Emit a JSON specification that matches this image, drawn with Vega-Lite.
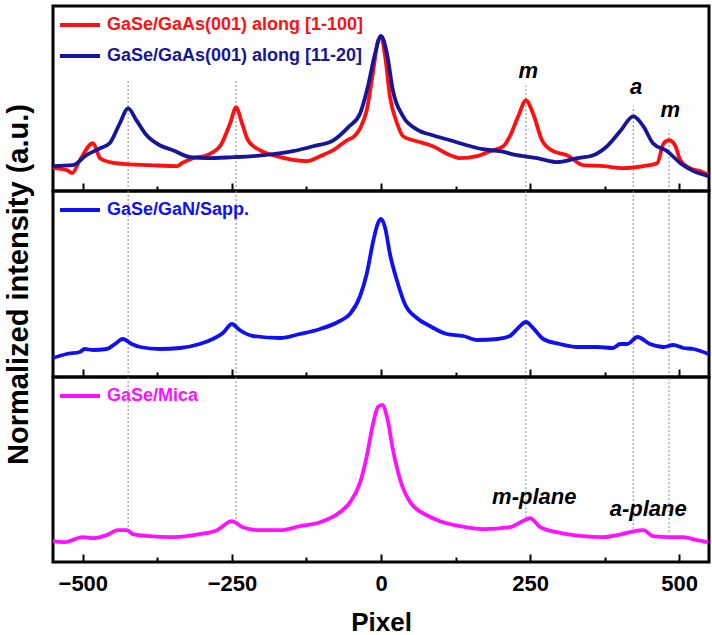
{
  "$schema": "https://vega.github.io/schema/vega-lite/v6.json",
  "background": "white",
  "padding": {"left": 2, "top": 1, "right": 1, "bottom": 0},
  "spacing": 0,
  "bounds": "flush",
  "resolve": {"scale": {"color": "independent"}},
  "config": {
    "view": {"stroke": "black", "strokeWidth": 3},
    "font": "Liberation Sans",
    "axis": {"labelFont": "Liberation Sans", "titleFont": "Liberation Sans", "grid": false, "labelColor": "black", "titleColor": "black"},
    "legend": {
      "symbolType": "stroke", "symbolSize": 1600, "symbolStrokeWidth": 4,
      "labelFont": "Liberation Sans", "labelFontSize": 18, "labelFontWeight": "bold",
      "labelOffset": 5, "padding": 0, "rowPadding": -7, "labelLimit": 400
    }
  },
  "datasets": {
    "top": [
      {"series": "GaSe/GaAs(001) along [1-100]", "pixel": -550, "intensity": 23},
      {"series": "GaSe/GaAs(001) along [1-100]", "pixel": -527, "intensity": 21},
      {"series": "GaSe/GaAs(001) along [1-100]", "pixel": -518, "intensity": 18},
      {"series": "GaSe/GaAs(001) along [1-100]", "pixel": -505, "intensity": 31},
      {"series": "GaSe/GaAs(001) along [1-100]", "pixel": -483, "intensity": 48},
      {"series": "GaSe/GaAs(001) along [1-100]", "pixel": -471, "intensity": 33},
      {"series": "GaSe/GaAs(001) along [1-100]", "pixel": -455, "intensity": 29},
      {"series": "GaSe/GaAs(001) along [1-100]", "pixel": -426, "intensity": 27},
      {"series": "GaSe/GaAs(001) along [1-100]", "pixel": -388, "intensity": 26},
      {"series": "GaSe/GaAs(001) along [1-100]", "pixel": -342, "intensity": 25},
      {"series": "GaSe/GaAs(001) along [1-100]", "pixel": -334, "intensity": 28},
      {"series": "GaSe/GaAs(001) along [1-100]", "pixel": -315, "intensity": 33},
      {"series": "GaSe/GaAs(001) along [1-100]", "pixel": -292, "intensity": 36},
      {"series": "GaSe/GaAs(001) along [1-100]", "pixel": -270, "intensity": 45},
      {"series": "GaSe/GaAs(001) along [1-100]", "pixel": -253, "intensity": 68},
      {"series": "GaSe/GaAs(001) along [1-100]", "pixel": -243, "intensity": 84},
      {"series": "GaSe/GaAs(001) along [1-100]", "pixel": -233, "intensity": 68},
      {"series": "GaSe/GaAs(001) along [1-100]", "pixel": -223, "intensity": 51},
      {"series": "GaSe/GaAs(001) along [1-100]", "pixel": -203, "intensity": 41},
      {"series": "GaSe/GaAs(001) along [1-100]", "pixel": -175, "intensity": 35},
      {"series": "GaSe/GaAs(001) along [1-100]", "pixel": -124, "intensity": 30},
      {"series": "GaSe/GaAs(001) along [1-100]", "pixel": -102, "intensity": 35},
      {"series": "GaSe/GaAs(001) along [1-100]", "pixel": -80, "intensity": 41},
      {"series": "GaSe/GaAs(001) along [1-100]", "pixel": -57, "intensity": 51},
      {"series": "GaSe/GaAs(001) along [1-100]", "pixel": -45, "intensity": 55},
      {"series": "GaSe/GaAs(001) along [1-100]", "pixel": -35, "intensity": 63},
      {"series": "GaSe/GaAs(001) along [1-100]", "pixel": -24, "intensity": 81},
      {"series": "GaSe/GaAs(001) along [1-100]", "pixel": -13, "intensity": 121},
      {"series": "GaSe/GaAs(001) along [1-100]", "pixel": -5, "intensity": 151},
      {"series": "GaSe/GaAs(001) along [1-100]", "pixel": 0, "intensity": 155},
      {"series": "GaSe/GaAs(001) along [1-100]", "pixel": 7, "intensity": 135},
      {"series": "GaSe/GaAs(001) along [1-100]", "pixel": 15, "intensity": 95},
      {"series": "GaSe/GaAs(001) along [1-100]", "pixel": 27, "intensity": 68},
      {"series": "GaSe/GaAs(001) along [1-100]", "pixel": 37, "intensity": 55},
      {"series": "GaSe/GaAs(001) along [1-100]", "pixel": 60, "intensity": 50},
      {"series": "GaSe/GaAs(001) along [1-100]", "pixel": 87, "intensity": 45},
      {"series": "GaSe/GaAs(001) along [1-100]", "pixel": 116, "intensity": 36},
      {"series": "GaSe/GaAs(001) along [1-100]", "pixel": 133, "intensity": 33},
      {"series": "GaSe/GaAs(001) along [1-100]", "pixel": 161, "intensity": 35},
      {"series": "GaSe/GaAs(001) along [1-100]", "pixel": 183, "intensity": 40},
      {"series": "GaSe/GaAs(001) along [1-100]", "pixel": 205, "intensity": 45},
      {"series": "GaSe/GaAs(001) along [1-100]", "pixel": 216, "intensity": 55},
      {"series": "GaSe/GaAs(001) along [1-100]", "pixel": 230, "intensity": 75},
      {"series": "GaSe/GaAs(001) along [1-100]", "pixel": 243, "intensity": 91},
      {"series": "GaSe/GaAs(001) along [1-100]", "pixel": 255, "intensity": 78},
      {"series": "GaSe/GaAs(001) along [1-100]", "pixel": 270, "intensity": 51},
      {"series": "GaSe/GaAs(001) along [1-100]", "pixel": 289, "intensity": 40},
      {"series": "GaSe/GaAs(001) along [1-100]", "pixel": 312, "intensity": 36},
      {"series": "GaSe/GaAs(001) along [1-100]", "pixel": 339, "intensity": 26},
      {"series": "GaSe/GaAs(001) along [1-100]", "pixel": 373, "intensity": 25},
      {"series": "GaSe/GaAs(001) along [1-100]", "pixel": 406, "intensity": 23},
      {"series": "GaSe/GaAs(001) along [1-100]", "pixel": 440, "intensity": 25},
      {"series": "GaSe/GaAs(001) along [1-100]", "pixel": 463, "intensity": 28},
      {"series": "GaSe/GaAs(001) along [1-100]", "pixel": 474, "intensity": 48},
      {"series": "GaSe/GaAs(001) along [1-100]", "pixel": 483, "intensity": 51},
      {"series": "GaSe/GaAs(001) along [1-100]", "pixel": 493, "intensity": 46},
      {"series": "GaSe/GaAs(001) along [1-100]", "pixel": 502, "intensity": 31},
      {"series": "GaSe/GaAs(001) along [1-100]", "pixel": 518, "intensity": 23},
      {"series": "GaSe/GaAs(001) along [1-100]", "pixel": 535, "intensity": 20},
      {"series": "GaSe/GaAs(001) along [1-100]", "pixel": 549, "intensity": 16},
      {"series": "GaSe/GaAs(001) along [11-20]", "pixel": -550, "intensity": 25},
      {"series": "GaSe/GaAs(001) along [11-20]", "pixel": -517, "intensity": 26},
      {"series": "GaSe/GaAs(001) along [11-20]", "pixel": -494, "intensity": 36},
      {"series": "GaSe/GaAs(001) along [11-20]", "pixel": -471, "intensity": 43},
      {"series": "GaSe/GaAs(001) along [11-20]", "pixel": -455, "intensity": 48},
      {"series": "GaSe/GaAs(001) along [11-20]", "pixel": -438, "intensity": 68},
      {"series": "GaSe/GaAs(001) along [11-20]", "pixel": -424, "intensity": 83},
      {"series": "GaSe/GaAs(001) along [11-20]", "pixel": -410, "intensity": 71},
      {"series": "GaSe/GaAs(001) along [11-20]", "pixel": -393, "intensity": 56},
      {"series": "GaSe/GaAs(001) along [11-20]", "pixel": -371, "intensity": 46},
      {"series": "GaSe/GaAs(001) along [11-20]", "pixel": -349, "intensity": 41},
      {"series": "GaSe/GaAs(001) along [11-20]", "pixel": -320, "intensity": 34},
      {"series": "GaSe/GaAs(001) along [11-20]", "pixel": -292, "intensity": 33},
      {"series": "GaSe/GaAs(001) along [11-20]", "pixel": -248, "intensity": 34},
      {"series": "GaSe/GaAs(001) along [11-20]", "pixel": -215, "intensity": 35},
      {"series": "GaSe/GaAs(001) along [11-20]", "pixel": -181, "intensity": 37},
      {"series": "GaSe/GaAs(001) along [11-20]", "pixel": -148, "intensity": 40},
      {"series": "GaSe/GaAs(001) along [11-20]", "pixel": -114, "intensity": 45},
      {"series": "GaSe/GaAs(001) along [11-20]", "pixel": -80, "intensity": 51},
      {"series": "GaSe/GaAs(001) along [11-20]", "pixel": -55, "intensity": 64},
      {"series": "GaSe/GaAs(001) along [11-20]", "pixel": -35, "intensity": 78},
      {"series": "GaSe/GaAs(001) along [11-20]", "pixel": -22, "intensity": 105},
      {"series": "GaSe/GaAs(001) along [11-20]", "pixel": -10, "intensity": 138},
      {"series": "GaSe/GaAs(001) along [11-20]", "pixel": 0, "intensity": 156},
      {"series": "GaSe/GaAs(001) along [11-20]", "pixel": 10, "intensity": 138},
      {"series": "GaSe/GaAs(001) along [11-20]", "pixel": 20, "intensity": 101},
      {"series": "GaSe/GaAs(001) along [11-20]", "pixel": 37, "intensity": 75},
      {"series": "GaSe/GaAs(001) along [11-20]", "pixel": 60, "intensity": 62},
      {"series": "GaSe/GaAs(001) along [11-20]", "pixel": 87, "intensity": 56},
      {"series": "GaSe/GaAs(001) along [11-20]", "pixel": 116, "intensity": 51},
      {"series": "GaSe/GaAs(001) along [11-20]", "pixel": 144, "intensity": 46},
      {"series": "GaSe/GaAs(001) along [11-20]", "pixel": 171, "intensity": 42},
      {"series": "GaSe/GaAs(001) along [11-20]", "pixel": 200, "intensity": 40},
      {"series": "GaSe/GaAs(001) along [11-20]", "pixel": 228, "intensity": 36},
      {"series": "GaSe/GaAs(001) along [11-20]", "pixel": 262, "intensity": 33},
      {"series": "GaSe/GaAs(001) along [11-20]", "pixel": 295, "intensity": 29},
      {"series": "GaSe/GaAs(001) along [11-20]", "pixel": 329, "intensity": 33},
      {"series": "GaSe/GaAs(001) along [11-20]", "pixel": 356, "intensity": 36},
      {"series": "GaSe/GaAs(001) along [11-20]", "pixel": 379, "intensity": 45},
      {"series": "GaSe/GaAs(001) along [11-20]", "pixel": 401, "intensity": 60},
      {"series": "GaSe/GaAs(001) along [11-20]", "pixel": 423, "intensity": 75},
      {"series": "GaSe/GaAs(001) along [11-20]", "pixel": 440, "intensity": 65},
      {"series": "GaSe/GaAs(001) along [11-20]", "pixel": 456, "intensity": 48},
      {"series": "GaSe/GaAs(001) along [11-20]", "pixel": 480, "intensity": 40},
      {"series": "GaSe/GaAs(001) along [11-20]", "pixel": 502, "intensity": 28},
      {"series": "GaSe/GaAs(001) along [11-20]", "pixel": 524, "intensity": 20},
      {"series": "GaSe/GaAs(001) along [11-20]", "pixel": 549, "intensity": 15}
    ],
    "middle": [
      {"series": "GaSe/GaN/Sapp.", "pixel": -550, "intensity": 19},
      {"series": "GaSe/GaN/Sapp.", "pixel": -527, "intensity": 23},
      {"series": "GaSe/GaN/Sapp.", "pixel": -505, "intensity": 25},
      {"series": "GaSe/GaN/Sapp.", "pixel": -497, "intensity": 28},
      {"series": "GaSe/GaN/Sapp.", "pixel": -483, "intensity": 27},
      {"series": "GaSe/GaN/Sapp.", "pixel": -460, "intensity": 28},
      {"series": "GaSe/GaN/Sapp.", "pixel": -446, "intensity": 33},
      {"series": "GaSe/GaN/Sapp.", "pixel": -433, "intensity": 38},
      {"series": "GaSe/GaN/Sapp.", "pixel": -418, "intensity": 33},
      {"series": "GaSe/GaN/Sapp.", "pixel": -404, "intensity": 30},
      {"series": "GaSe/GaN/Sapp.", "pixel": -371, "intensity": 28},
      {"series": "GaSe/GaN/Sapp.", "pixel": -337, "intensity": 29},
      {"series": "GaSe/GaN/Sapp.", "pixel": -304, "intensity": 33},
      {"series": "GaSe/GaN/Sapp.", "pixel": -282, "intensity": 38},
      {"series": "GaSe/GaN/Sapp.", "pixel": -265, "intensity": 44},
      {"series": "GaSe/GaN/Sapp.", "pixel": -250, "intensity": 53},
      {"series": "GaSe/GaN/Sapp.", "pixel": -237, "intensity": 47},
      {"series": "GaSe/GaN/Sapp.", "pixel": -215, "intensity": 41},
      {"series": "GaSe/GaN/Sapp.", "pixel": -169, "intensity": 39},
      {"series": "GaSe/GaN/Sapp.", "pixel": -136, "intensity": 43},
      {"series": "GaSe/GaN/Sapp.", "pixel": -102, "intensity": 48},
      {"series": "GaSe/GaN/Sapp.", "pixel": -69, "intensity": 56},
      {"series": "GaSe/GaN/Sapp.", "pixel": -52, "intensity": 63},
      {"series": "GaSe/GaN/Sapp.", "pixel": -35, "intensity": 81},
      {"series": "GaSe/GaN/Sapp.", "pixel": -24, "intensity": 103},
      {"series": "GaSe/GaN/Sapp.", "pixel": -13, "intensity": 136},
      {"series": "GaSe/GaN/Sapp.", "pixel": -5, "intensity": 154},
      {"series": "GaSe/GaN/Sapp.", "pixel": 0, "intensity": 158},
      {"series": "GaSe/GaN/Sapp.", "pixel": 7, "intensity": 149},
      {"series": "GaSe/GaN/Sapp.", "pixel": 15, "intensity": 123},
      {"series": "GaSe/GaN/Sapp.", "pixel": 27, "intensity": 96},
      {"series": "GaSe/GaN/Sapp.", "pixel": 40, "intensity": 73},
      {"series": "GaSe/GaN/Sapp.", "pixel": 60, "intensity": 59},
      {"series": "GaSe/GaN/Sapp.", "pixel": 82, "intensity": 51},
      {"series": "GaSe/GaN/Sapp.", "pixel": 110, "intensity": 43},
      {"series": "GaSe/GaN/Sapp.", "pixel": 138, "intensity": 41},
      {"series": "GaSe/GaN/Sapp.", "pixel": 161, "intensity": 37},
      {"series": "GaSe/GaN/Sapp.", "pixel": 195, "intensity": 38},
      {"series": "GaSe/GaN/Sapp.", "pixel": 216, "intensity": 41},
      {"series": "GaSe/GaN/Sapp.", "pixel": 230, "intensity": 49},
      {"series": "GaSe/GaN/Sapp.", "pixel": 243, "intensity": 55},
      {"series": "GaSe/GaN/Sapp.", "pixel": 255, "intensity": 49},
      {"series": "GaSe/GaN/Sapp.", "pixel": 272, "intensity": 38},
      {"series": "GaSe/GaN/Sapp.", "pixel": 300, "intensity": 33},
      {"series": "GaSe/GaN/Sapp.", "pixel": 329, "intensity": 30},
      {"series": "GaSe/GaN/Sapp.", "pixel": 362, "intensity": 30},
      {"series": "GaSe/GaN/Sapp.", "pixel": 389, "intensity": 29},
      {"series": "GaSe/GaN/Sapp.", "pixel": 401, "intensity": 33},
      {"series": "GaSe/GaN/Sapp.", "pixel": 413, "intensity": 33},
      {"series": "GaSe/GaN/Sapp.", "pixel": 430, "intensity": 40},
      {"series": "GaSe/GaN/Sapp.", "pixel": 451, "intensity": 33},
      {"series": "GaSe/GaN/Sapp.", "pixel": 474, "intensity": 30},
      {"series": "GaSe/GaN/Sapp.", "pixel": 490, "intensity": 32},
      {"series": "GaSe/GaN/Sapp.", "pixel": 507, "intensity": 29},
      {"series": "GaSe/GaN/Sapp.", "pixel": 524, "intensity": 28},
      {"series": "GaSe/GaN/Sapp.", "pixel": 549, "intensity": 23}
    ],
    "bottom": [
      {"series": "GaSe/Mica", "pixel": -550, "intensity": 21},
      {"series": "GaSe/Mica", "pixel": -530, "intensity": 20},
      {"series": "GaSe/Mica", "pixel": -500, "intensity": 25},
      {"series": "GaSe/Mica", "pixel": -483, "intensity": 24},
      {"series": "GaSe/Mica", "pixel": -460, "intensity": 27},
      {"series": "GaSe/Mica", "pixel": -441, "intensity": 32},
      {"series": "GaSe/Mica", "pixel": -426, "intensity": 32},
      {"series": "GaSe/Mica", "pixel": -416, "intensity": 28},
      {"series": "GaSe/Mica", "pixel": -388, "intensity": 26},
      {"series": "GaSe/Mica", "pixel": -349, "intensity": 25},
      {"series": "GaSe/Mica", "pixel": -304, "intensity": 28},
      {"series": "GaSe/Mica", "pixel": -275, "intensity": 32},
      {"series": "GaSe/Mica", "pixel": -250, "intensity": 41},
      {"series": "GaSe/Mica", "pixel": -232, "intensity": 35},
      {"series": "GaSe/Mica", "pixel": -203, "intensity": 32},
      {"series": "GaSe/Mica", "pixel": -169, "intensity": 32},
      {"series": "GaSe/Mica", "pixel": -136, "intensity": 36},
      {"series": "GaSe/Mica", "pixel": -102, "intensity": 40},
      {"series": "GaSe/Mica", "pixel": -69, "intensity": 50},
      {"series": "GaSe/Mica", "pixel": -52, "intensity": 60},
      {"series": "GaSe/Mica", "pixel": -35, "intensity": 80},
      {"series": "GaSe/Mica", "pixel": -24, "intensity": 106},
      {"series": "GaSe/Mica", "pixel": -13, "intensity": 140},
      {"series": "GaSe/Mica", "pixel": -5, "intensity": 156},
      {"series": "GaSe/Mica", "pixel": 2, "intensity": 158},
      {"series": "GaSe/Mica", "pixel": 10, "intensity": 146},
      {"series": "GaSe/Mica", "pixel": 20, "intensity": 113},
      {"series": "GaSe/Mica", "pixel": 32, "intensity": 83},
      {"series": "GaSe/Mica", "pixel": 49, "intensity": 60},
      {"series": "GaSe/Mica", "pixel": 77, "intensity": 47},
      {"series": "GaSe/Mica", "pixel": 99, "intensity": 41},
      {"series": "GaSe/Mica", "pixel": 133, "intensity": 36},
      {"series": "GaSe/Mica", "pixel": 171, "intensity": 33},
      {"series": "GaSe/Mica", "pixel": 216, "intensity": 35},
      {"series": "GaSe/Mica", "pixel": 237, "intensity": 41},
      {"series": "GaSe/Mica", "pixel": 250, "intensity": 44},
      {"series": "GaSe/Mica", "pixel": 267, "intensity": 35},
      {"series": "GaSe/Mica", "pixel": 295, "intensity": 30},
      {"series": "GaSe/Mica", "pixel": 339, "intensity": 26},
      {"series": "GaSe/Mica", "pixel": 373, "intensity": 25},
      {"series": "GaSe/Mica", "pixel": 396, "intensity": 27},
      {"series": "GaSe/Mica", "pixel": 418, "intensity": 30},
      {"series": "GaSe/Mica", "pixel": 440, "intensity": 32},
      {"series": "GaSe/Mica", "pixel": 456, "intensity": 26},
      {"series": "GaSe/Mica", "pixel": 485, "intensity": 25},
      {"series": "GaSe/Mica", "pixel": 507, "intensity": 25},
      {"series": "GaSe/Mica", "pixel": 530, "intensity": 22},
      {"series": "GaSe/Mica", "pixel": 549, "intensity": 20}
    ],
    "guides": [
      {"panel": "top", "pixel": -424, "low": 0, "high": 111},
      {"panel": "top", "pixel": -243, "low": 0, "high": 111},
      {"panel": "top", "pixel": 243, "low": 0, "high": 106},
      {"panel": "top", "pixel": 423, "low": 0, "high": 85},
      {"panel": "top", "pixel": 483, "low": 0, "high": 61},
      {"panel": "middle", "pixel": -424, "low": 0, "high": 186},
      {"panel": "middle", "pixel": -243, "low": 0, "high": 186},
      {"panel": "middle", "pixel": 243, "low": 0, "high": 186},
      {"panel": "middle", "pixel": 423, "low": 0, "high": 186},
      {"panel": "middle", "pixel": 483, "low": 0, "high": 186},
      {"panel": "bottom", "pixel": -424, "low": 31, "high": 186},
      {"panel": "bottom", "pixel": -243, "low": 43, "high": 186},
      {"panel": "bottom", "pixel": 243, "low": 45, "high": 186},
      {"panel": "bottom", "pixel": 423, "low": 33, "high": 186},
      {"panel": "bottom", "pixel": 483, "low": 30, "high": 186}
    ],
    "labels": [
      {"panel": "top", "pixel": 247, "intensity": 121, "text": "m"},
      {"panel": "top", "pixel": 428, "intensity": 105, "text": "a"},
      {"panel": "top", "pixel": 485, "intensity": 81, "text": "m"},
      {"panel": "bottom", "pixel": 257, "intensity": 65, "text": "m-plane"},
      {"panel": "bottom", "pixel": 448, "intensity": 53, "text": "a-plane"}
    ]
  },
  "vconcat": [
    {
      "width": 656, "height": 185,
      "layer": [
        {
          "data": {"name": "guides"},
          "transform": [{"filter": "datum.panel === 'top'"}],
          "mark": {"type": "rule", "strokeDash": [2, 2], "color": "#888888", "strokeWidth": 1},
          "encoding": {
            "x": {"field": "pixel", "type": "quantitative", "scale": {"domain": [-550, 550], "nice": false, "zero": false},
              "axis": {"values": [-500, -375, -250, -125, 0, 125, 250, 375, 500], "labels": false, "title": null, "domain": false, "tickColor": "black", "tickWidth": 2,
                "tickSize": {"condition": {"test": "datum.value % 250 === 0", "value": -8}, "value": -5}}},
            "y": {"field": "low", "type": "quantitative", "scale": {"domain": [0, 186], "nice": false, "zero": false}, "axis": null},
            "y2": {"field": "high"}
          }
        },
        {
          "data": {"name": "top"},
          "mark": {"type": "line", "strokeWidth": 3.8, "strokeJoin": "round", "interpolate": "monotone"},
          "encoding": {
            "x": {"field": "pixel", "type": "quantitative"},
            "y": {"field": "intensity", "type": "quantitative"},
            "color": {"field": "series", "type": "nominal",
              "scale": {"domain": ["GaSe/GaAs(001) along [1-100]", "GaSe/GaAs(001) along [11-20]"], "range": ["#ff1010", "#16169a"]},
              "legend": {"title": null, "orient": "none", "legendX": 5, "legendY": -3,
                "encode": {"labels": {"update": {"fill": {"signal": "datum.value === 'GaSe/GaAs(001) along [1-100]' ? '#ff1010' : '#16169a'"}}}}}}
          }
        },
        {
          "data": {"name": "labels"},
          "transform": [{"filter": "datum.panel === 'top'"}],
          "mark": {"type": "text", "font": "Liberation Sans", "fontSize": 22, "fontWeight": "bold", "fontStyle": "italic", "color": "black", "baseline": "middle"},
          "encoding": {
            "x": {"field": "pixel", "type": "quantitative"},
            "y": {"field": "intensity", "type": "quantitative"},
            "text": {"field": "text"}
          }
        }
      ]
    },
    {
      "width": 656, "height": 186,
      "layer": [
        {
          "data": {"name": "guides"},
          "transform": [{"filter": "datum.panel === 'middle'"}],
          "mark": {"type": "rule", "strokeDash": [2, 2], "color": "#888888", "strokeWidth": 1},
          "encoding": {
            "x": {"field": "pixel", "type": "quantitative", "scale": {"domain": [-550, 550], "nice": false, "zero": false},
              "axis": {"values": [-500, -375, -250, -125, 0, 125, 250, 375, 500], "labels": false, "title": null, "domain": false, "tickColor": "black", "tickWidth": 2,
                "tickSize": {"condition": {"test": "datum.value % 250 === 0", "value": -8}, "value": -5}}},
            "y": {"field": "low", "type": "quantitative", "scale": {"domain": [0, 186], "nice": false, "zero": false},
              "axis": {"title": "Normalized intensity (a.u.)", "labels": false, "ticks": false, "domain": false, "titleFontSize": 29, "titleFontWeight": "bold", "titlePadding": 20}},
            "y2": {"field": "high"}
          }
        },
        {
          "data": {"name": "middle"},
          "mark": {"type": "line", "strokeWidth": 3.8, "strokeJoin": "round", "interpolate": "monotone"},
          "encoding": {
            "x": {"field": "pixel", "type": "quantitative"},
            "y": {"field": "intensity", "type": "quantitative"},
            "color": {"field": "series", "type": "nominal",
              "scale": {"domain": ["GaSe/GaN/Sapp."], "range": ["#1010f5"]},
              "legend": {"title": null, "orient": "none", "legendX": 5, "legendY": -3,
                "encode": {"labels": {"update": {"fill": {"value": "#1010f5"}}}}}}
          }
        }
      ]
    },
    {
      "width": 656, "height": 185,
      "layer": [
        {
          "data": {"name": "guides"},
          "transform": [{"filter": "datum.panel === 'bottom'"}],
          "mark": {"type": "rule", "strokeDash": [2, 2], "color": "#888888", "strokeWidth": 1},
          "encoding": {
            "x": {"field": "pixel", "type": "quantitative", "scale": {"domain": [-550, 550], "nice": false, "zero": false},
              "axis": {"values": [-500, -375, -250, -125, 0, 125, 250, 375, 500], "title": "Pixel", "domain": false, "tickColor": "black", "tickWidth": 2,
                "tickSize": {"condition": {"test": "datum.value % 250 === 0", "value": -8}, "value": -5},
                "labelExpr": "datum.value % 250 === 0 ? datum.label : ''",
                "labelFontSize": 22, "labelFontWeight": "bold", "labelPadding": 19,
                "titleFontSize": 26, "titleFontWeight": "bold", "titlePadding": 15}},
            "y": {"field": "low", "type": "quantitative", "scale": {"domain": [0, 186], "nice": false, "zero": false}, "axis": null},
            "y2": {"field": "high"}
          }
        },
        {
          "data": {"name": "bottom"},
          "mark": {"type": "line", "strokeWidth": 3.8, "strokeJoin": "round", "interpolate": "monotone"},
          "encoding": {
            "x": {"field": "pixel", "type": "quantitative"},
            "y": {"field": "intensity", "type": "quantitative"},
            "color": {"field": "series", "type": "nominal",
              "scale": {"domain": ["GaSe/Mica"], "range": ["#ff10ff"]},
              "legend": {"title": null, "orient": "none", "legendX": 5, "legendY": -3,
                "encode": {"labels": {"update": {"fill": {"value": "#ff10ff"}}}}}}
          }
        },
        {
          "data": {"name": "labels"},
          "transform": [{"filter": "datum.panel === 'bottom'"}],
          "mark": {"type": "text", "font": "Liberation Sans", "fontSize": 22, "fontWeight": "bold", "fontStyle": "italic", "color": "black", "baseline": "middle"},
          "encoding": {
            "x": {"field": "pixel", "type": "quantitative"},
            "y": {"field": "intensity", "type": "quantitative"},
            "text": {"field": "text"}
          }
        }
      ]
    }
  ]
}
